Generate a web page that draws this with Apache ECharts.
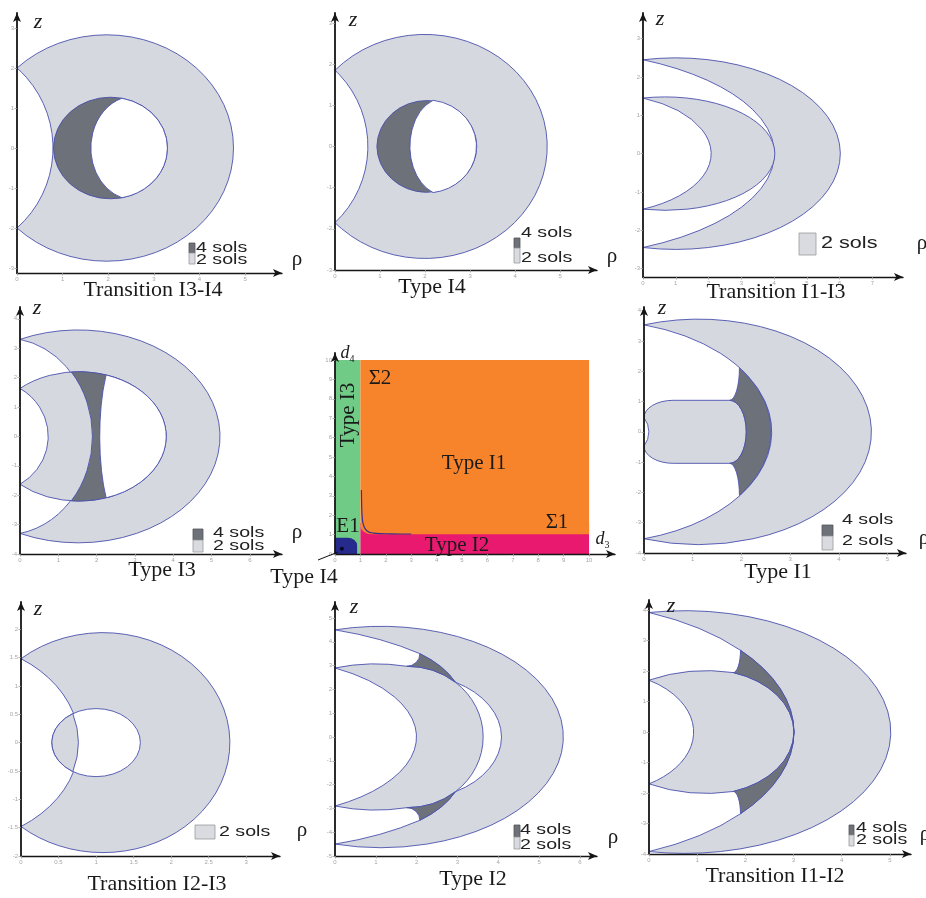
<!DOCTYPE html>
<html><head><meta charset="utf-8">
<script src="https://cdn.jsdelivr.net/npm/echarts@6/dist/echarts.min.js"></script>
<style>html,body{margin:0;padding:0;background:#fff}#c{width:926px;height:898px}</style>
</head><body><div id="c"></div>
<script>
// ---------- DATA (region boundaries in axis units: rho, z) ----------
// Path steps: ['M',rho,z] ['L',rho,z] ['A',rRho,rZ,largeArc,sweep,rho,z] ['Z']
// Panel 1 : Transition I3-I4
const p1Regions = [
  [['M',0,2],['A',2.78,2.83,1,1,0,-2],['A',2.34,2.67,0,0,0,2],['Z']],
  [['M',0.8,0],['A',1.25,1.27,0,1,3.3,0],['A',1.25,1.27,0,1,0.8,0],['Z']],
  [['M',2.3,1.244],['A',1.25,1.27,0,1,2.3,-1.244],['A',0.96,1.3,0,1,2.3,1.244],['Z']]
];
const p1Sols = [2,4,0];
// Panel 2 : Type I4
const p2Regions = [
  [['M',0,1.85],['A',2.72,2.72,1,1,0,-1.85],['A',2.32,2.54,0,0,0,1.85],['Z']],
  [['M',0.93,0],['A',1.11,1.13,0,1,3.15,0],['A',1.11,1.13,0,1,0.93,0],['Z']],
  [['M',2.18,1.12],['A',1.11,1.13,0,1,2.18,-1.12],['A',0.78,1.19,0,1,2.18,1.12],['Z']]
];
const p2Sols = [2,4,0];
// Panel 3 : Transition I1-I3
const p3Regions = [
  [['M',0,2.45],['A',5.02,2.5,1,1,0,-2.45],['A',7,2.71,0,0,0,2.45],['Z']],
  [['M',0,1.45],['A',3.35,1.48,1,1,0,-1.45],['A',3.45,1.58,0,0,0,1.45],['Z']]
];
const p3Sols = [2,2];
// Panel 4 : Type I3
const p4Regions = [
  [['M',0,3.3],['A',3.7,3.62,1,1,0,-3.3],['A',2.26,3.35,0,0,0,3.3],['Z']],
  [['M',0,1.63],['A',2.28,2.2,1,1,0,-1.63],['A',1.54,1.91,0,0,0,1.63],['Z']],
  [['M',1.34,2.192],['A',2.28,2.2,1,1,1.34,-2.192],['A',2.26,3.35,0,0,1.34,2.192],['Z']],
  [['M',2.25,2.09],['A',2.28,2.2,0,1,2.25,-2.09],['A',0.55,2.9,0,1,2.25,2.09],['Z']]
];
const p4Sols = [2,2,4,0];
// Panel 5 : parameter plane (d3, d4)
const centerRegions = [
  [['M',0,0],['L',0,10],['L',1,10],['L',1,0],['Z']],
  [['M',1,0],['L',1,1.6],['L',10,1.6],['L',10,0],['Z']],
  [['M',1,10],['L',10,10],['L',10,1.02],['L',1.45,1.02],['A',0.45,0.45,0,1,1,1.47],['Z']],
  [['M',0,0],['L',0,0.84],['L',0.5,0.84],['A',0.37,0.4,0,1,0.87,0.44],['L',0.87,0],['Z']]
];
const centerTypes = ['I3','I2','I1','I4'];
const sigmaCurve = [[1.04,3.3],[1.05,2.5],[1.07,1.9],[1.12,1.5],[1.25,1.2],[1.5,1.08],[2.2,1.04],[3,1.03]];
const typeI4Point = [[0.27,0.27]];
// Panel 6 : Type I1
const p6Regions = [
  [['M',0,3.53],['A',3.55,3.72,1,1,0,-3.53],['A',3.61,3.67,0,0,0,3.53],['Z']],
  [['M',0,0.47],['A',0.6,0.57,0,1,0.6,1.04],['L',1.76,1.04],['A',0.34,1.04,0,1,2.1,0],['A',0.34,1.04,0,1,1.76,-1.04],['L',0.6,-1.04],['A',0.6,0.57,0,1,0,-0.47],['A',0.48,0.77,0,0,0,0.47],['Z']],
  [['M',1.96,2.1],['A',3.61,3.67,0,1,1.96,-2.1],['A',0.2,1.06,0,0,1.76,-1.04],['A',0.34,1.04,0,0,2.1,0],['A',0.34,1.04,0,0,1.76,1.04],['A',0.2,1.06,0,0,1.96,2.1],['Z']]
];
const p6Sols = [2,2,4];
// Panel 7 : Transition I2-I3
const p7Regions = [
  [['M',0,1.48],['A',1.69,1.94,1,1,0,-1.48],['A',1.77,1.79,0,0,0,1.48],['Z']],
  [['M',0.41,0],['A',0.59,0.6,0,1,1.59,0],['A',0.59,0.6,0,1,0.41,0],['Z']],
  [['M',0.69,0.51],['A',0.59,0.6,0,0,0.69,-0.51],['A',1.77,1.79,0,0,0.69,0.51],['Z']]
];
const p7Sols = [2,0,2];
// Panel 8 : Type I2
const p8Regions = [
  [['M',0,4.5],['A',4.47,4.65,1,1,0,-4.5],['A',6,5,0,0,2.08,-3.5],['A',3,3,0,0,2.95,-2.3],['A',2.2,2.65,0,0,4.08,0],['A',2.2,2.65,0,0,2.95,2.3],['A',3,3,0,0,2.08,3.5],['A',6,5,0,0,0,4.5],['Z']],
  [['M',0,2.9],['A',3,3,0,1,1.76,2.97],['A',1.87,2.97,0,1,2.95,2.3],['A',1.87,2.97,0,1,3.63,0],['A',1.87,2.97,0,1,2.95,-2.3],['A',1.87,2.97,0,1,1.76,-2.97],['A',3,3,0,1,0,-2.9],['A',4,3.35,0,0,0,2.9],['Z']],
  [['M',2.08,3.5],['A',3,3,0,1,2.95,2.3],['A',1.87,2.97,0,0,1.76,2.97],['A',0.32,0.53,0,0,2.08,3.5],['Z']],
  [['M',2.08,-3.5],['A',3,3,0,0,2.95,-2.3],['A',1.87,2.97,0,1,1.76,-2.97],['A',0.32,0.53,0,1,2.08,-3.5],['Z']]
];
const p8Sols = [2,2,4,4];
// Panel 9 : Transition I1-I2
const p9Regions = [
  [['M',0,3.92],['A',4.28,3.98,1,1,0,-3.92],['A',5.01,4.27,0,0,1.9,-2.68],['A',5.01,4.27,0,0,3.01,0],['A',5.01,4.27,0,0,1.9,2.68],['A',5.01,4.27,0,0,0,3.92],['Z']],
  [['M',0,1.7],['A',2.5,2.5,0,1,1.75,1.95],['A',1.81,2.05,0,1,3.01,0],['A',1.81,2.05,0,1,1.75,-1.95],['A',2.5,2.5,0,1,0,-1.7],['A',1.93,1.99,0,0,0,1.7],['Z']],
  [['M',1.9,2.68],['A',5.01,4.27,0,1,3.01,0],['A',1.81,2.05,0,0,1.75,1.95],['A',0.15,0.73,0,0,1.9,2.68],['Z']],
  [['M',1.9,-2.68],['A',5.01,4.27,0,0,3.01,0],['A',1.81,2.05,0,1,1.75,-1.95],['A',0.15,0.73,0,1,1.9,-2.68],['Z']]
];
const p9Sols = [2,2,4,4];
// Tick values
const ticks0to5 = [0,1,2,3,4,5];
const ticks0to6 = [0,1,2,3,4,5,6];
const ticks0to7 = [0,1,2,3,4,5,6,7];
const ticks0to10 = [0,1,2,3,4,5,6,7,8,9,10];
const ticksM3to3 = [-3,-2,-1,0,1,2,3];
const ticksM4to4 = [-4,-3,-2,-1,0,1,2,3,4];
const ticksM5to5 = [-5,-4,-3,-2,-1,0,1,2,3,4,5];
const ticksHalf0to3 = [0,0.5,1,1.5,2,2.5,3];
const ticksHalfM2to2 = [-2,-1.5,-1,-0.5,0,0.5,1,1.5,2];

// ---------- STYLE / LAYOUT ----------
const solColor = {0:'#ffffff', 2:'#d5d8de', 4:'#6d7179'};
const typeColor = {I1:'#f7842b', I2:'#e8196e', I3:'#6fcb86', I4:'#262a8c'};
const outline = '#4b51ae';
const serif = "'Liberation Serif','DejaVu Serif',serif";
const sans = "'Liberation Sans',Arial,sans-serif";

const panels = [
  {g:[17,13,265,260],  x:[0,5.81], y:[-3.125,3.375], tx:ticks0to5, ty:ticksM3to3, regions:p1Regions, sols:p1Sols},
  {g:[335,13,262,257], x:[0,5.82], y:[-3,3.24],      tx:ticks0to5, ty:ticksM3to3, regions:p2Regions, sols:p2Sols},
  {g:[643,13,260,264], x:[0,7.93], y:[-3.22,3.67],   tx:ticks0to7, ty:ticksM3to3, regions:p3Regions, sols:p3Sols},
  {g:[20,307,262,247], x:[0,6.84], y:[-4,4.4],       tx:ticks0to6, ty:ticksM4to4, regions:p4Regions, sols:p4Sols},
  {g:[335,353,280,201],x:[0,11.02],y:[0,10.36],      tx:ticks0to10,ty:ticks0to10, regions:centerRegions, types:centerTypes},
  {g:[644,307,262,246],x:[0,5.38], y:[-4,4.12],      tx:ticks0to5, ty:ticksM4to4, regions:p6Regions, sols:p6Sols},
  {g:[21,602,259,254], x:[0,3.45], y:[-2,2.48],      tx:ticksHalf0to3, ty:ticksHalfM2to2, regions:p7Regions, sols:p7Sols},
  {g:[335,602,262,254],x:[0,6.42], y:[-5,5.67],      tx:ticks0to6, ty:ticksM5to5, regions:p8Regions, sols:p8Sols},
  {g:[649,600,262,254],x:[0,5.44], y:[-4,4.33],      tx:ticks0to5, ty:ticksM4to4, regions:p9Regions, sols:p9Sols}
];

function buildPath(cmds, api) {
  let d = '';
  cmds.forEach(c => {
    if (c[0] === 'M' || c[0] === 'L') {
      const p = api.coord([c[1], c[2]]);
      d += c[0] + p[0].toFixed(2) + ' ' + p[1].toFixed(2) + ' ';
    } else if (c[0] === 'A') {
      const s = api.size([c[1], c[2]]);
      const p = api.coord([c[5], c[6]]);
      d += 'A' + s[0].toFixed(2) + ' ' + s[1].toFixed(2) + ' 0 ' + c[3] + ' ' + c[4] + ' ' + p[0].toFixed(2) + ' ' + p[1].toFixed(2) + ' ';
    } else d += 'Z ';
  });
  return d;
}

const grids = [], xAxes = [], yAxes = [], series = [];
panels.forEach((p, i) => {
  grids.push({left:p.g[0], top:p.g[1], width:p.g[2], height:p.g[3], containLabel:false, outerBoundsMode:'none'});
  const axisCommon = (ticks, w) => ({
    z: 10,
    axisLine:{show:true, onZero:false, symbol:['none','arrow'], symbolSize:[6,9], lineStyle:{color:'#151515', width:w}},
    axisTick:{show:true, length:2.5, customValues:ticks, lineStyle:{color:'#9a9a9a', width:0.8}},
    axisLabel:{show:true, customValues:ticks, fontSize:6, color:'#a6a6a6', margin:3, fontFamily:sans},
    splitLine:{show:false}
  });
  xAxes.push(Object.assign({gridIndex:i, type:'value', min:p.x[0], max:p.x[1], position:'bottom'}, axisCommon(p.tx, 1.4)));
  yAxes.push(Object.assign({gridIndex:i, type:'value', min:p.y[0], max:p.y[1], position:'left'}, axisCommon(p.ty, 1.8)));
  const regions = p.regions;
  series.push({
    type:'custom', coordinateSystem:'cartesian2d', xAxisIndex:i, yAxisIndex:i, silent:true, clip:false, z:2,
    encode:{x:0, y:1},
    data: regions.map((r, k) => [r[0][1], r[0][2], k]),
    renderItem: function (params, api) {
      const k = api.value(2);
      const d = buildPath(regions[k], api);
      if (p.types) {
        return {type:'path', shape:{pathData:d}, style:{fill:typeColor[p.types[k]], stroke:null}};
      }
      return {type:'path', shape:{pathData:d}, style:{fill:solColor[p.sols[k]], stroke:outline, lineWidth:0.9}};
    }
  });
});
series.push({type:'line', xAxisIndex:4, yAxisIndex:4, data:sigmaCurve, smooth:0.5, showSymbol:false, silent:true, z:4,
  lineStyle:{color:'#3a2e8e', width:1.2}});
series.push({type:'scatter', xAxisIndex:4, yAxisIndex:4, data:typeI4Point, symbolSize:4, silent:true, z:5,
  itemStyle:{color:'#000'}});

// ---------- TEXT / LEGENDS ----------
const G = [];
function T(text, x, y, size, opts) {
  opts = opts || {};
  G.push({type:'text', x:x, y:y, rotation:opts.rot || 0, scaleX:opts.sx || 1, z:20,
    style:{text:text, fontSize:size, fontFamily:opts.ff || serif, fontStyle:opts.it ? 'italic' : 'normal',
      fill:opts.fill || '#1a1a1a', align:opts.align || 'center', verticalAlign:'middle'}});
}
function R(x, y, w, h, fill, stroke) {
  G.push({type:'rect', z:20, shape:{x:x, y:y, width:w, height:h}, style:{fill:fill, stroke:stroke, lineWidth:0.8}});
}
// titles
[['Transition I3-I4',153,290],['Type I4',432,287],['Transition I1-I3',776,292],['Type I3',162,570],
 ['Type I4',304,577],['Type I1',778,572],['Transition I2-I3',157,884],['Type I2',473,879],['Transition I1-I2',775,876]]
 .forEach(t => T(t[0], t[1], t[2], 22));
// z labels
[[38,22],[353,20],[660,19],[37,308],[662,308],[38,609],[354,607],[671,606]].forEach(q => T('z', q[0], q[1], 22, {it:true}));
// rho labels
[[297,259],[612,256],[922,243],[297,532],[924,538],[302,830],[613,837],[925,834]].forEach(q => T('ρ', q[0], q[1], 21));
// legends
const lg = (t, x, y) => T(t, x, y, 14, {ff:sans, align:'left', sx:1.4, fill:'#222'});
R(189,243,6,10,'#6d7179','#555'); R(189,253,6,11,'#d9dbe0','#999'); lg('4 sols',196,248); lg('2 sols',196,260);
R(514,238,6,10,'#6d7179','#555'); R(514,248,6,15,'#d9dbe0','#999'); lg('4 sols',521,233); lg('2 sols',521,258);
R(799,233,17,22,'#d9dbe0','#999'); T('2 sols',821,244,16,{ff:sans, align:'left', sx:1.35, fill:'#222'});
R(193,529,10,11,'#6d7179','#555'); R(193,540,10,12,'#d9dbe0','#999'); lg('4 sols',213,533); lg('2 sols',213,546);
R(822,525,11,11,'#6d7179','#555'); R(822,536,11,14,'#d9dbe0','#999'); lg('4 sols',842,520); lg('2 sols',842,541);
R(195,825,20,14,'#d9dbe0','#999'); lg('2 sols',219,832);
R(514,825,6,12,'#6d7179','#555'); R(514,837,6,12,'#d9dbe0','#999'); lg('4 sols',520,830); lg('2 sols',520,845);
R(849,825,5,10,'#6d7179','#555'); R(849,835,5,11,'#d9dbe0','#999'); lg('4 sols',856,828); lg('2 sols',856,840);
// center panel labels
T('d',345,353,18,{it:true}); T('4',352,359,10);
T('d',600,539,18,{it:true}); T('3',607,545,10);
T('Σ2',380,378,21); T('Type I1',474,463,21); T('Σ1',557,522,21); T('E1',348,526,21); T('Type I2',457,545,21);
T('Type I3',348,415,21,{rot:Math.PI/2});
G.push({type:'line', z:20, shape:{x1:318, y1:560, x2:338, y2:552}, style:{stroke:'#111', lineWidth:1}});

const chart = echarts.init(document.getElementById('c'), null, {renderer:'canvas'});
chart.setOption({
  animation:false, backgroundColor:'#fff',
  grid:grids, xAxis:xAxes, yAxis:yAxes, series:series,
  graphic:{elements:G}
});
</script></body></html>
